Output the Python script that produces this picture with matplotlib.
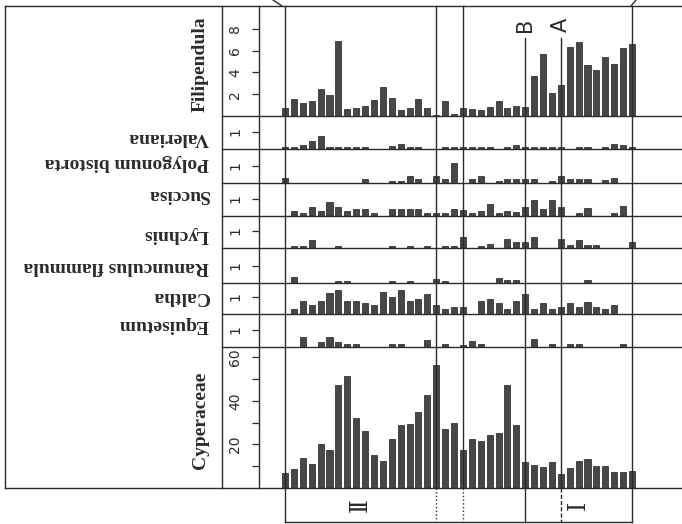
import matplotlib
matplotlib.use("Agg")
import matplotlib.pyplot as plt
import matplotlib.transforms as mtransforms
from matplotlib.lines import Line2D

# pollen values per sample (40 samples, left to right)
filipendula = [0.70, 1.55, 1.15, 1.39, 2.5, 1.9, 6.9, 0.67, 0.73, 0.94,
               1.48, 2.64, 1.67, 0.55, 0.73, 1.6, 0.7, 0.1, 1.4, 0.15,
               0.76, 0.64, 0.58, 0.79, 1.42, 0.73, 0.94, 0.85, 3.64, 5.67,
               2.12, 2.85, 6.3, 6.76, 4.7, 4.18, 5.45, 4.8, 6.2, 6.58]
valeriana = [0.1, 0.12, 0.25, 0.49, 0.78, 0.12, 0.12, 0.12, 0.12, 0.12,
             0, 0, 0.2, 0.27, 0.12, 0.12, 0, 0, 0.12, 0.12,
             0.1, 0.12, 0.12, 0.12, 0, 0.12, 0.25, 0.12, 0.12, 0.12,
             0.12, 0.1, 0, 0.12, 0.12, 0, 0.12, 0.28, 0.26, 0.12]
polygonum = [0.31, 0, 0, 0, 0, 0, 0, 0, 0, 0.25,
             0, 0, 0.12, 0.12, 0.41, 0.25, 0, 0.39, 0.24, 1.18,
             0, 0.22, 0.39, 0, 0.12, 0.22, 0.22, 0.25, 0.25, 0,
             0.12, 0.41, 0.25, 0.25, 0.25, 0, 0.16, 0.27, 0, 0]
succisa = [0, 0.29, 0.16, 0.55, 0.29, 0.8, 0.51, 0.27, 0.39, 0.39,
           0.16, 0, 0.39, 0.39, 0.39, 0.39, 0.16, 0.16, 0.16, 0.43,
           0.35, 0.16, 0.29, 0.69, 0.16, 0.29, 0.25, 0.55, 0.94, 0.39,
           0.94, 0.55, 0, 0.16, 0.45, 0, 0, 0.16, 0.59, 0]
lychnis = [0, 0.1, 0.1, 0.49, 0, 0, 0.1, 0, 0, 0,
           0, 0, 0.1, 0, 0.14, 0, 0.14, 0, 0.1, 0.1,
           0.64, 0, 0.1, 0.25, 0, 0.53, 0.37, 0.35, 0.63, 0,
           0, 0.53, 0.16, 0.49, 0.16, 0.16, 0, 0, 0, 0.37]
ranunculus = [0, 0.35, 0, 0, 0, 0, 0.12, 0.12, 0, 0,
              0, 0, 0.12, 0, 0.12, 0, 0, 0.25, 0.12, 0,
              0, 0, 0, 0, 0.31, 0.16, 0.16, 0, 0, 0,
              0, 0, 0, 0, 0.16, 0, 0, 0, 0, 0]
caltha = [0, 0.27, 0.78, 0.51, 0.78, 1.25, 1.39, 0.76, 0.76, 0.65,
          0.51, 1.29, 1.02, 1.41, 0.76, 0.9, 1.16, 0.53, 0.27, 0.39,
          0.39, 0, 0.78, 0.9, 0.63, 0.27, 0.76, 1.16, 0.27, 0.67,
          0.27, 0.39, 0.67, 0.43, 0.69, 0.43, 0.29, 0.55, 0, 0]
equisetum = [0, 0, 0.6, 0, 0.32, 0.57, 0.3, 0.15, 0.15, 0,
             0, 0, 0.15, 0.15, 0, 0, 0.42, 0, 0.15, 0,
             0.1, 0.37, 0.15, 0, 0, 0, 0, 0, 0.49, 0,
             0.15, 0, 0.15, 0.15, 0, 0, 0, 0, 0.15, 0]
cyperaceae = [6.9, 8.9, 13.8, 11.0, 20.2, 17.3, 47.1, 51.5, 32.1, 26.1,
              15.0, 12.5, 22.5, 29.0, 29.5, 34.9, 42.5, 56.6, 27.1, 29.8,
              17.3, 22.5, 21.4, 24.3, 25.2, 47.1, 28.9, 11.8, 10.7, 9.8,
              11.9, 6.6, 9.3, 12.4, 13.1, 9.9, 9.9, 7.5, 7.5, 7.8]

names = ["Filipendula", "Valeriana", "Polygonum bistorta", "Succisa", "Lychnis",
         "Ranunculus flammula", "Caltha", "Equisetum", "Cyperaceae"]
series = [filipendula, valeriana, polygonum, succisa, lychnis,
          ranunculus, caltha, equisetum, cyperaceae]

# samples where the zone / marker lines run
solid_lines = [0, 17, 20, 39]
marker_lines = {27: "B", 31: "A"}
strip_styles = {0: "-", 17: ":", 20: ":", 27: "-", 31: (0, (3, 1.5)), 39: "-"}
zones = [(8.5, "Ⅱ"), (33, "Ⅰ")]

W, H = 682, 524
INK = "#2b2b2b"
BAR = "#474747"


def fy(y):
    return 1 - y / H


def main():
    fig = plt.figure(figsize=(W / 100, H / 100), dpi=100)

    # panel edges in pixels (top of first to bottom of last)
    edges = [6, 116, 149, 183, 216, 248, 283, 314, 347, 488]
    px_per_unit = [10.9] + [17] * 7 + [2.18]
    label_y = [64, 137, 163, 194, 234, 266, 296, 324, 420]

    x0, x1 = 259, 682
    step = 347 / 39.0
    xmin = -(285 - x0) / step
    xmax = xmin + (x1 - x0) / step

    axes = []
    for k, vals in enumerate(series):
        top, bot = edges[k], edges[k + 1]
        ax = fig.add_axes([x0 / W, fy(bot), (x1 - x0) / W, (bot - top) / H])
        ax.set_xlim(xmin, xmax)
        ax.set_ylim(0, (bot - top) / px_per_unit[k])
        idx = [i for i, v in enumerate(vals) if v > 0]
        ax.bar(idx, [vals[i] for i in idx], width=0.68, color=BAR,
               edgecolor="#1e1e1e", linewidth=0.5)
        for s in ax.spines.values():
            s.set_visible(False)
        ax.set_xticks([])
        ax.patch.set_alpha(0)
        if k == 0:
            ax.set_yticks([2, 4, 6, 8])
        elif k == 8:
            ax.set_yticks([20, 40, 60])
            ax.set_yticks([10, 30, 50], minor=True)
        else:
            ax.set_yticks([1])
        ax.tick_params(axis="y", which="both", direction="out", length=5,
                       width=0.9, color=INK, pad=7, labelsize=10,
                       labelcolor=INK, labelrotation=90)
        for t in ax.get_yticklabels():
            t.set_va("center")
        rot = 90 if k in (0, 8) else 180
        fig.text(209 / W, fy(label_y[k]), names[k], rotation=rot,
                 ha="right", va="center", fontsize=14, fontweight="bold",
                 family="Liberation Serif", color=INK)
        axes.append(ax)

    def hline(y, xa, xb, lw=1.0):
        fig.add_artist(Line2D([xa / W, xb / W], [fy(y), fy(y)], color=INK,
                              lw=lw, transform=fig.transFigure))

    def vline(x, ya, yb, lw=1.0):
        fig.add_artist(Line2D([x / W, x / W], [fy(ya), fy(yb)], color=INK,
                              lw=lw, transform=fig.transFigure))

    # frame
    hline(6, 5, 682)
    hline(488, 5, 682)
    vline(5, 6, 488)
    vline(222, 6, 488)
    vline(259, 6, 488)
    for y in edges[1:-1]:
        hline(y, 222, 682)

    # sample lines across all panels, and the zone strip below
    ref = axes[-1]
    tr = mtransforms.blended_transform_factory(ref.transData, fig.transFigure)
    for i in solid_lines:
        fig.add_artist(Line2D([i, i], [fy(6), fy(488)], color=INK, lw=1.0,
                              transform=tr))
    for i, lab in marker_lines.items():
        fig.add_artist(Line2D([i, i], [fy(38), fy(488)], color=INK, lw=1.0,
                              transform=tr))
        fig.text(i, fy(25), lab, transform=tr, rotation=90, ha="center",
                 va="center", fontsize=15, color=INK, family="DejaVu Sans")
    for i, ls in strip_styles.items():
        fig.add_artist(Line2D([i, i], [fy(488), fy(522)], color=INK, lw=1.0,
                              ls=ls, transform=tr))
    fig.add_artist(Line2D([0, 39], [fy(522), fy(522)], color=INK, lw=1.0,
                          transform=tr))
    for xc, lab in zones:
        fig.text(xc, fy(505), lab, transform=tr, rotation=90, ha="center",
                 va="center", fontsize=17, color=INK, family="DejaVu Serif")

    # small slanted ends at the top
    fig.add_artist(Line2D([273 / W, 282 / W], [fy(0), fy(6)], color=INK,
                          lw=1.0, transform=fig.transFigure))
    fig.add_artist(Line2D([631 / W, 636 / W], [fy(6), fy(0)], color=INK,
                          lw=1.0, transform=fig.transFigure))

    fig.savefig("out.png", dpi=100)


if __name__ == "__main__":
    main()
